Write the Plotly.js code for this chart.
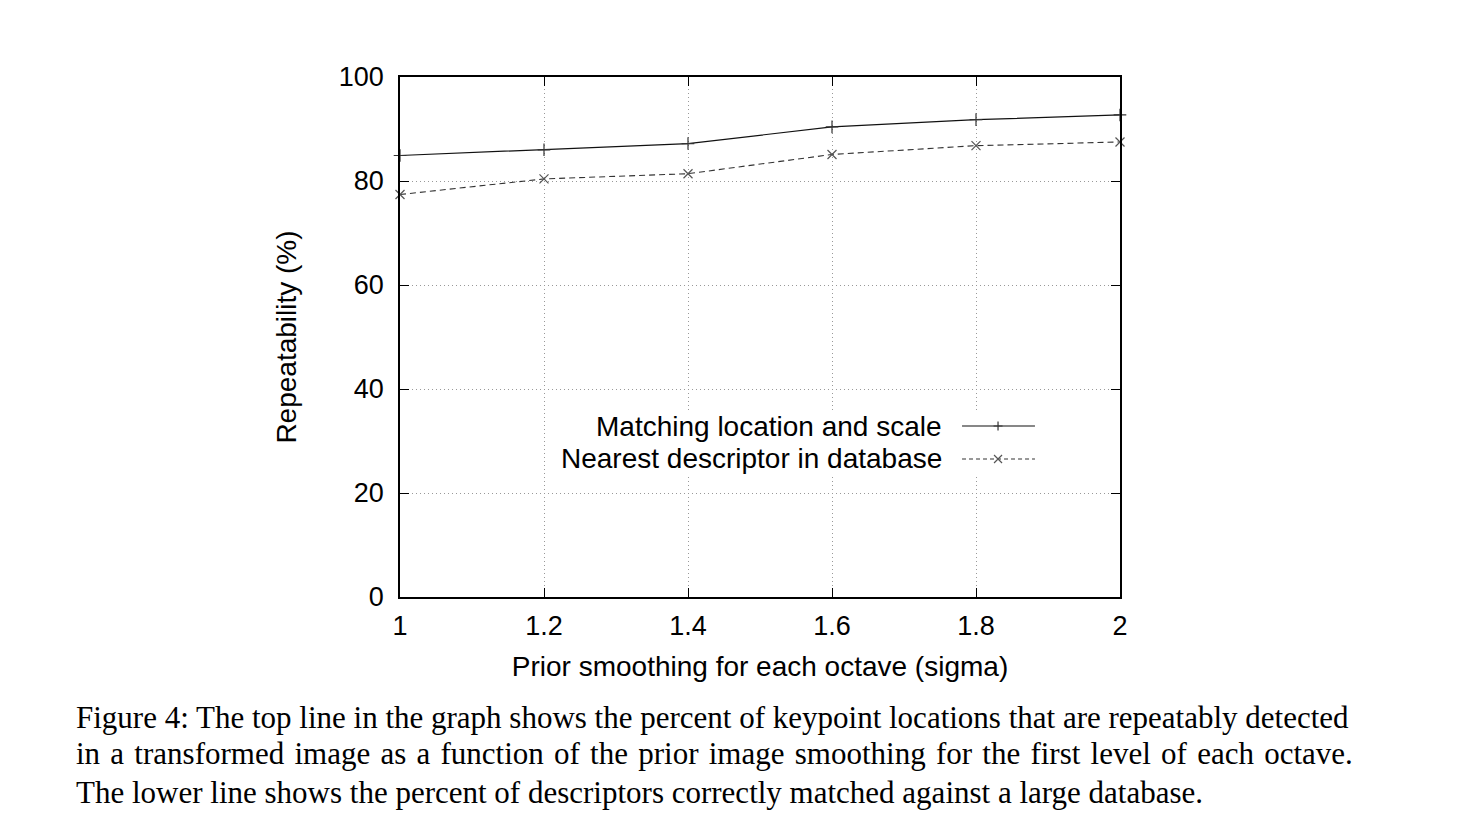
<!DOCTYPE html>
<html>
<head>
<meta charset="utf-8">
<script src="https://cdn.plot.ly/plotly-3.0.1.min.js"></script>
<style>
  html, body { margin: 0; padding: 0; background: #fff; }
  #chart { width: 1480px; height: 840px; }
</style>
</head>
<body>
<div id="chart"></div>
<script>
// prior smoothing sigma
var sigma = [1, 1.2, 1.4, 1.6, 1.8, 2];
// repeatability (%)
var matchingLocation = [84.9, 86.0, 87.2, 90.4, 91.8, 92.7];
var nearestDescriptor = [77.4, 80.4, 81.4, 85.1, 86.8, 87.5];

var seriesNames = ['Matching location and scale', 'Nearest descriptor in database'];
var xTicks = [1, 1.2, 1.4, 1.6, 1.8, 2];
var xTickText = ['1', '1.2', '1.4', '1.6', '1.8', '2'];
var yTicks = [0, 20, 40, 60, 80, 100];

var caption = [
  'Figure 4: The top line in the graph shows the percent of keypoint locations that are repeatably detected',
  'in a transformed image as a function of the prior image smoothing for the first level of each octave.',
  'The lower line shows the percent of descriptors correctly matched against a large database.'
];
// extra word spacing so the justified caption lines end flush
var capWordSpacing = [0, 2.5, 0];

var sans = 'Liberation Sans, Arial, Helvetica, sans-serif';
var serif = 'Liberation Serif, Times New Roman, serif';

var traces = [
  {
    x: sigma, y: matchingLocation, name: seriesNames[0],
    type: 'scatter', mode: 'lines+markers', cliponaxis: false,
    line: { color: '#111', width: 1.2 },
    marker: { symbol: 'cross-thin', size: 9, line: { color: '#333', width: 1.2 } }
  },
  {
    x: sigma, y: nearestDescriptor, name: seriesNames[1],
    type: 'scatter', mode: 'lines+markers', cliponaxis: false,
    line: { color: '#333', width: 1.1, dash: '6px,4px' },
    marker: { symbol: 'x-thin', size: 9, line: { color: '#555', width: 1.2 } }
  }
];

// legend drawn gnuplot-style: text right-aligned, sample on the right
var legY = [0.3288, 0.2654];
var shapes = [
  { type: 'rect', xref: 'paper', yref: 'paper', x0: 0.222, x1: 0.889, y0: 0.2346, y1: 0.3596,
    fillcolor: '#fff', line: { width: 0 }, layer: 'above' },
  { type: 'line', xref: 'paper', yref: 'paper', x0: 0.7806, x1: 0.8819, y0: legY[0], y1: legY[0],
    line: { color: '#111', width: 1.2 }, layer: 'above' },
  { type: 'line', xref: 'paper', yref: 'paper', x0: 0.7806, x1: 0.8819, y0: legY[1], y1: legY[1],
    line: { color: '#333', width: 1.1, dash: '4px,3px' }, layer: 'above' },
  { type: 'path', xref: 'paper', yref: 'paper', xsizemode: 'pixel', ysizemode: 'pixel',
    xanchor: 0.8306, yanchor: legY[0], path: 'M-4.5,0H4.5M0,-4.5V4.5',
    line: { color: '#333', width: 1.2 }, layer: 'above' },
  { type: 'path', xref: 'paper', yref: 'paper', xsizemode: 'pixel', ysizemode: 'pixel',
    xanchor: 0.8306, yanchor: legY[1], path: 'M-4,-4L4,4M-4,4L4,-4',
    line: { color: '#555', width: 1.2 }, layer: 'above' }
];

var annotations = seriesNames.map(function (n, i) {
  return {
    text: n, xref: 'paper', yref: 'paper', x: 0.7556, y: legY[i],
    xanchor: 'right', yanchor: 'middle', showarrow: false,
    font: { family: sans, size: 28, color: '#000' }
  };
});

var capY = [-0.2308, -0.3019, -0.375];
caption.forEach(function (line, i) {
  var txt = capWordSpacing[i]
    ? '<span style="word-spacing:' + capWordSpacing[i] + 'px">' + line + '</span>'
    : line;
  annotations.push({
    text: txt, xref: 'paper', yref: 'paper', x: -0.4528, y: capY[i],
    xanchor: 'left', yanchor: 'middle', showarrow: false,
    font: { family: serif, size: 31, color: '#000' }
  });
});

var layout = {
  width: 1480, height: 840,
  margin: { l: 400, r: 360, t: 77, b: 243 },
  paper_bgcolor: '#fff', plot_bgcolor: '#fff',
  showlegend: false,
  font: { family: sans, size: 27, color: '#000' },
  xaxis: {
    range: [1, 2], tickvals: xTicks, ticktext: xTickText,
    ticks: 'inside', ticklen: 9, tickcolor: '#000', tickwidth: 1.3,
    showline: true, linecolor: '#000', linewidth: 1.5, mirror: 'ticks',
    showgrid: true, gridcolor: '#999', gridwidth: 1, griddash: '1px,3px',
    zeroline: false, ticklabelstandoff: 4,
    tickfont: { family: sans, size: 27 },
    title: { text: 'Prior smoothing for each octave (sigma)', font: { family: sans, size: 28 }, standoff: 16 }
  },
  yaxis: {
    range: [0, 100], tickvals: yTicks,
    ticks: 'inside', ticklen: 9, tickcolor: '#000', tickwidth: 1.3,
    showline: true, linecolor: '#000', linewidth: 1.5, mirror: 'ticks',
    showgrid: true, gridcolor: '#999', gridwidth: 1, griddash: '1px,3px',
    zeroline: false, ticklabelstandoff: 9,
    tickfont: { family: sans, size: 27 },
    title: { text: 'Repeatability (%)', font: { family: sans, size: 28 }, standoff: 34 }
  },
  shapes: shapes,
  annotations: annotations
};

Plotly.newPlot('chart', traces, layout, { displayModeBar: false, responsive: false });
</script>
</body>
</html>
